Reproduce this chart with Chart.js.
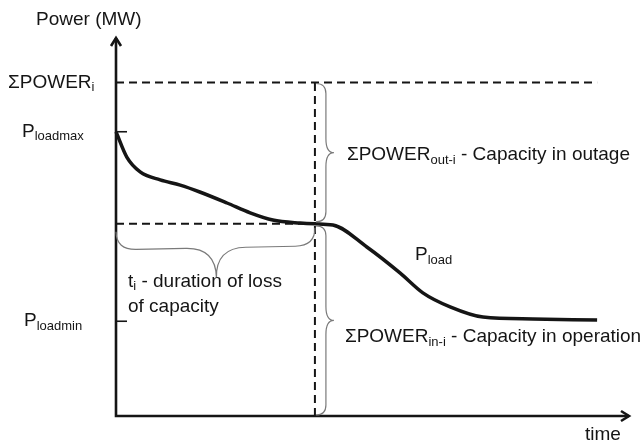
<!DOCTYPE html>
<html>
<head>
<meta charset="utf-8">
<script src="https://cdn.jsdelivr.net/npm/chart.js@4"></script>
<style>
  body { margin: 0; background: #fff; }
  #wrap { width: 643px; height: 444px; }
</style>
</head>
<body>
<div id="wrap"><canvas id="chart"></canvas></div>
<script>
// load duration curve (time and power in % of the axis length)
const loadTime  = [0, 2.1, 4.7, 8.6, 12.5, 16.3, 21.6, 26.1, 30.5, 35.8, 38.7, 42.2, 48.8, 55.3, 59.7, 65, 71.4, 81.1, 93.6];
const loadPower = [75, 68.3, 64.4, 62.3, 60.9, 59.1, 56.2, 53.6, 51.7, 50.9, 50.7, 50.4, 44.6, 37.7, 32.5, 28.8, 26.1, 25.6, 25.3];

const sumPowerI = 88;     // installed power
const pLoadMax = 75;
const pLoadMin = 25;
const tI = 38.7;          // duration of loss of capacity
const powerAtTi = 50.7;
const tEnd = 93.6;

const yTickValues = [sumPowerI, pLoadMax, pLoadMin];
const yTickLabels = [['ΣPOWER', 'i'], ['P', 'loadmax'], ['P', 'loadmin']];
const yTickMarks = [false, true, true];

const FONT = '"Liberation Sans", Arial, sans-serif';
const INK = '#151515';

function rich(ctx, x, y, parts) {
  let cx = x;
  parts.forEach(p => {
    const sub = p[1];
    ctx.font = (sub ? '13px ' : '19px ') + FONT;
    ctx.fillText(p[0], cx, sub ? y + 5 : y);
    cx += ctx.measureText(p[0]).width;
  });
}

// curly brace from p1 to p2, bulging to the left-hand side of the direction
function brace(ctx, x1, y1, x2, y2, arm, tip, rEnd, rMid) {
  const L = Math.hypot(x2 - x1, y2 - y1);
  const a = Math.atan2(y2 - y1, x2 - x1);
  const m = L / 2;
  ctx.save();
  ctx.translate(x1, y1);
  ctx.rotate(a);
  ctx.beginPath();
  ctx.moveTo(0, 0);
  ctx.quadraticCurveTo(0, arm, rEnd, arm);
  ctx.lineTo(m - rMid, arm);
  ctx.quadraticCurveTo(m, arm, m, tip);
  ctx.quadraticCurveTo(m, arm, m + rMid, arm);
  ctx.lineTo(L - rEnd, arm);
  ctx.quadraticCurveTo(L, arm, L, 0);
  ctx.stroke();
  ctx.restore();
}

const diagram = {
  id: 'diagram',
  afterDatasetsDraw(chart) {
    const { ctx, chartArea: ca, scales: { x, y } } = chart;
    ctx.save();
    ctx.strokeStyle = INK;
    ctx.fillStyle = INK;
    ctx.lineCap = 'butt';

    // axes with arrows
    ctx.lineWidth = 2.6;
    ctx.beginPath();
    ctx.moveTo(ca.left, ca.top + 1);
    ctx.lineTo(ca.left, ca.bottom);
    ctx.lineTo(ca.right - 1, ca.bottom);
    ctx.stroke();
    ctx.beginPath();
    ctx.moveTo(ca.left - 5, ca.top + 9);
    ctx.lineTo(ca.left, ca.top + 1);
    ctx.lineTo(ca.left + 5, ca.top + 9);
    ctx.moveTo(ca.right - 9, ca.bottom - 5);
    ctx.lineTo(ca.right - 1, ca.bottom);
    ctx.lineTo(ca.right - 9, ca.bottom + 5);
    ctx.stroke();

    // y ticks and labels
    ctx.lineWidth = 1.6;
    ctx.textBaseline = 'middle';
    const labelX = [8, 22, 24];
    yTickValues.forEach((v, i) => {
      const py = y.getPixelForValue(v);
      if (yTickMarks[i]) {
        ctx.beginPath();
        ctx.moveTo(ca.left, py);
        ctx.lineTo(ca.left + 11, py);
        ctx.stroke();
      }
      rich(ctx, labelX[i], py, [[yTickLabels[i][0]], [yTickLabels[i][1], true]]);
    });

    // braces
    const xt = x.getPixelForValue(tI);
    const yTop = y.getPixelForValue(sumPowerI);
    const yMid = y.getPixelForValue(powerAtTi);
    const yBot = y.getPixelForValue(0);
    ctx.strokeStyle = '#7a7a7a';
    ctx.lineWidth = 1.2;
    brace(ctx, xt + 1, yMid - 2, xt + 1, yTop + 1, 10, 18, 10, 14);
    brace(ctx, xt + 1, yBot - 1, xt + 1, yMid + 2, 10, 18, 10, 14);
    brace(ctx, ca.left, yMid + 8, xt, yMid + 4, 18, 48, 20, 30);

    // texts
    ctx.fillStyle = INK;
    rich(ctx, 36, 20, [['Power (MW)']]);
    rich(ctx, ca.right - 45, ca.bottom + 19, [['time']]);
    rich(ctx, xt + 32, y.getPixelForValue((sumPowerI + powerAtTi) / 2) + 2,
      [['ΣPOWER'], ['out-i', true], [' - Capacity in outage']]);
    rich(ctx, xt + 30, yBot - 79, [['ΣPOWER'], ['in-i', true], [' - Capacity in operation']]);
    rich(ctx, 415, 255, [['P'], ['load', true]]);
    rich(ctx, ca.left + 12, yMid + 58, [['t'], ['i', true], [' - duration of loss']]);
    rich(ctx, ca.left + 12, yMid + 83, [['of capacity']]);
    ctx.restore();
  }
};

const dash = { borderColor: INK, borderWidth: 2, borderDash: [8, 5], pointRadius: 0, clip: false, fill: false };

new Chart(document.getElementById('chart'), {
  type: 'line',
  data: {
    datasets: [
      {
        data: loadTime.map((t, i) => ({ x: t, y: loadPower[i] })),
        borderColor: INK,
        borderWidth: 3.5,
        cubicInterpolationMode: 'monotone',
        pointRadius: 0,
        clip: false,
        fill: false
      },
      Object.assign({ data: [{ x: 0, y: sumPowerI }, { x: tEnd, y: sumPowerI }] }, dash),
      Object.assign({ data: [{ x: tI, y: 0 }, { x: tI, y: sumPowerI }] }, dash),
      Object.assign({ data: [{ x: 0, y: powerAtTi }, { x: tI, y: powerAtTi }] }, dash)
    ]
  },
  options: {
    responsive: true,
    maintainAspectRatio: false,
    animation: false,
    layout: { padding: { left: 116, right: 13, top: 37, bottom: 28 } },
    plugins: { legend: { display: false }, tooltip: { enabled: false } },
    scales: {
      x: { type: 'linear', min: 0, max: 100, display: false },
      y: { type: 'linear', min: 0, max: 100, display: false }
    }
  },
  plugins: [diagram]
});
</script>
</body>
</html>
